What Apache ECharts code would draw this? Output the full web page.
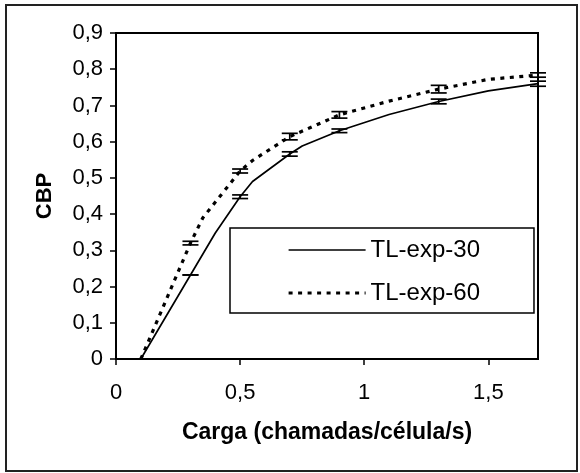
<!DOCTYPE html>
<html>
<head>
<meta charset="utf-8">
<script src="https://cdn.jsdelivr.net/npm/echarts@6/dist/echarts.min.js"></script>
<style>
html, body { margin: 0; padding: 0; background: #fff; }
#chart { width: 580px; height: 473px; }
</style>
</head>
<body>
<div id="chart"></div>
<script>
// TL-exp-30 (linha cheia)
const cargaA = [0.1, 0.3, 0.4, 0.5, 0.55, 0.7, 0.75, 0.9, 1.1, 1.3, 1.5, 1.7]
const cbpA = [0, 0.232, 0.348, 0.448, 0.49, 0.566, 0.588, 0.630, 0.675, 0.711, 0.740, 0.760]

// TL-exp-60 (linha tracejada)
const cargaB = [0.1, 0.3, 0.35, 0.5, 0.55, 0.65, 0.7, 0.9, 1.1, 1.3, 1.5, 1.7]
const cbpB = [0, 0.320, 0.39, 0.519, 0.548, 0.592, 0.614, 0.674, 0.712, 0.745, 0.772, 0.784]

// barras de erro
const errX = [0.3, 0.5, 0.7, 0.9, 1.3, 1.7]
const errMidA = [0.232, 0.448, 0.566, 0.630, 0.711, 0.760]
const errA = [0, 0.005, 0.006, 0.005, 0.0065, 0.007]
const errMidB = [0.320, 0.519, 0.614, 0.674, 0.745, 0.784]
const errB = [0.005, 0.0055, 0.009, 0.009, 0.0105, 0.006]

const xTicks = [0, 0.5, 1, 1.5]
const seriesNames = ['TL-exp-30', 'TL-exp-60']

const FONT = '"Liberation Sans", Arial, sans-serif'
const lineWidths = [1.7, 3.2]

const fmt = (v) => {
  if (Math.abs(v) < 1e-9) return '0'
  return String(Math.round(v * 10) / 10).replace('.', ',')
}

const pairs = (xs, ys) => xs.map((x, i) => [x, ys[i]])
const errData = (mid, err) => errX.map((x, i) => [x, mid[i] - err[i], mid[i] + err[i]])

// desenha uma barra de erro com as duas "tampas"
const renderErr = (params, api) => {
  const x = api.value(0)
  const lo = api.coord([x, api.value(1)])
  const hi = api.coord([x, api.value(2)])
  const w = 8
  const style = { stroke: '#000', lineWidth: 1.7 }
  return {
    type: 'group',
    children: [
      { type: 'line', shape: { x1: lo[0] - w, y1: lo[1], x2: lo[0] + w, y2: lo[1] }, style },
      { type: 'line', shape: { x1: hi[0] - w, y1: hi[1], x2: hi[0] + w, y2: hi[1] }, style },
      { type: 'line', shape: { x1: lo[0], y1: lo[1], x2: hi[0], y2: hi[1] }, style }
    ]
  }
}

const chart = echarts.init(document.getElementById('chart'))

chart.setOption({
  animation: false,
  backgroundColor: '#fff',
  textStyle: { fontFamily: FONT },
  graphic: [
    {
      type: 'rect',
      shape: { x: 6, y: 5, width: 571, height: 466 },
      style: { fill: 'none', stroke: '#222', lineWidth: 2 },
      silent: true
    }
  ],
  grid: {
    left: 116,
    right: 42,
    top: 33,
    bottom: 114,
    show: true,
    borderColor: '#000',
    borderWidth: 2,
    backgroundColor: 'transparent'
  },
  legend: {
    data: seriesNames.map((name, i) => ({ name, lineStyle: { width: lineWidths[i] } })),
    orient: 'vertical',
    left: 230,
    top: 228,
    itemWidth: 77,
    itemHeight: 14,
    itemGap: 19,
    padding: [10, 54, 8, 57],
    borderColor: '#000',
    borderWidth: 1.5,
    itemStyle: { opacity: 0 },
    textStyle: { fontFamily: FONT, fontSize: 24, color: '#000' }
  },
  xAxis: {
    type: 'value',
    min: 0,
    max: 1.7,
    interval: 0.5,
    name: 'Carga (chamadas/célula/s)',
    nameLocation: 'middle',
    nameGap: 62,
    nameTextStyle: { fontFamily: FONT, fontSize: 23, fontWeight: 'bold', color: '#000' },
    axisLine: { lineStyle: { color: '#000', width: 2 } },
    axisTick: { show: true, length: 6, lineStyle: { color: '#000', width: 1.5 }, customValues: xTicks },
    axisLabel: { margin: 23, fontSize: 22, color: '#000', fontFamily: FONT, formatter: fmt, customValues: xTicks },
    splitLine: { show: false }
  },
  yAxis: {
    type: 'value',
    min: 0,
    max: 0.9,
    interval: 0.1,
    name: 'CBP',
    nameLocation: 'middle',
    nameGap: 60,
    nameTextStyle: { fontFamily: FONT, fontSize: 22, fontWeight: 'bold', color: '#000' },
    axisLine: { show: true, lineStyle: { color: '#000', width: 2 } },
    axisTick: { show: true, length: 6, lineStyle: { color: '#000', width: 1.5 } },
    axisLabel: { margin: 13, fontSize: 22, color: '#000', fontFamily: FONT, formatter: fmt },
    splitLine: { show: false }
  },
  series: [
    {
      name: 'TL-exp-30',
      type: 'line',
      data: pairs(cargaA, cbpA),
      symbol: 'none',
      lineStyle: { color: '#000', width: lineWidths[0], type: 'solid' },
      itemStyle: { color: '#000' }
    },
    {
      name: 'TL-exp-60',
      type: 'line',
      data: pairs(cargaB, cbpB),
      symbol: 'none',
      lineStyle: { color: '#000', width: lineWidths[1], type: [4, 5.5] },
      itemStyle: { color: '#000' }
    },
    {
      name: 'erro-30',
      type: 'custom',
      renderItem: renderErr,
      data: errData(errMidA, errA),
      clip: false,
      z: 3
    },
    {
      name: 'erro-60',
      type: 'custom',
      renderItem: renderErr,
      data: errData(errMidB, errB),
      clip: false,
      z: 3
    }
  ]
})
</script>
</body>
</html>
